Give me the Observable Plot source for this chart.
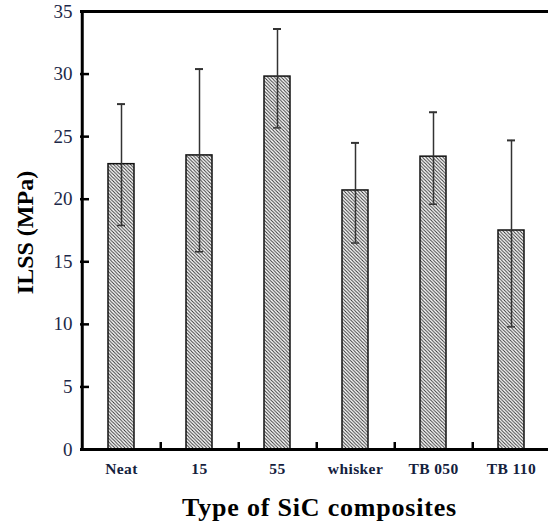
<!DOCTYPE html>
<html>
<head>
<meta charset="utf-8">
<script src="https://cdn.jsdelivr.net/npm/d3@7"></script>
<script src="https://cdn.jsdelivr.net/npm/@observablehq/plot@0.6"></script>
<style>
  html, body { margin: 0; padding: 0; background: #fff; }
  #chart svg { display: block; }
  #chart svg text { font-family: 'Liberation Serif', 'Times New Roman', serif !important; }
  g[aria-label="y-axis tick label"] { fill: #1c2848; }
  g[aria-label="x-axis tick label"] { fill: #14213d; letter-spacing: 0.4px; }
  .xtitle text { letter-spacing: 0.8px; }
</style>
</head>
<body>
<div id="chart"></div>
<script>
const categories = ["Neat", "15", "55", "whisker", "TB 050", "TB 110"];
const ilss = [22.8, 23.5, 29.8, 20.7, 23.4, 17.5];
const errHigh = [27.6, 30.4, 33.6, 24.5, 26.95, 24.7];
const errLow = [17.9, 15.8, 25.7, 16.5, 19.6, 9.8];
const yTicks = [0, 5, 10, 15, 20, 25, 30, 35];

const data = categories.map((c, i) => ({cat: c, v: ilss[i], lo: errLow[i], hi: errHigh[i]}));

const W = 548, H = 527;
const mL = 80, mT = 11, mB = 78;
const xRange = [80, 551];
const step = (xRange[1] - xRange[0]) / categories.length;
const frameH = H - mT - mB;
const frameW = W - mL;
const serif = "'Liberation Serif', 'Times New Roman', serif";

const plot = Plot.plot({
  width: W,
  height: H,
  marginLeft: mL,
  marginRight: 0,
  marginTop: mT,
  marginBottom: mB,
  style: {fontFamily: serif, background: "#fff"},
  x: {type: "band", domain: categories, range: xRange, paddingInner: 0.67, paddingOuter: 0.335, label: null},
  y: {domain: [0, 35], label: null},
  marks: [
    Plot.barY(data, {x: "cat", y: "v", fill: "url(#hatch)", stroke: "#111", strokeWidth: 1.5}),
    Plot.ruleX(data, {x: "cat", y1: "lo", y2: "hi", stroke: "#333", strokeWidth: 1.5}),
    Plot.tickY(data, {x: "cat", y: "hi", stroke: "#333", strokeWidth: 2, insetLeft: 9, insetRight: 9}),
    Plot.tickY(data, {x: "cat", y: "lo", stroke: "#333", strokeWidth: 1.5, insetLeft: 9, insetRight: 9}),
    Plot.ruleY(yTicks.slice(1, -1), {stroke: "#000", strokeWidth: 2.5, insetRight: frameW - 9}),
    Plot.ruleX(categories.slice(0, -1), {stroke: "#000", strokeWidth: 2.5, dx: step / 2, insetTop: frameH - 7}),
    Plot.ruleX([categories[0]], {stroke: "#000", strokeWidth: 3, dx: -step / 2}),
    Plot.ruleY([35], {stroke: "#000", strokeWidth: 3}),
    Plot.ruleY([0], {stroke: "#000", strokeWidth: 3}),
    Plot.axisY({ticks: yTicks, tickSize: 0, tickPadding: 8, fontSize: 19}),
    Plot.axisX({tickSize: 0, tickPadding: 13, fontSize: 15.5, fontWeight: "bold"}),
    Plot.text(["ILSS (MPa)"], {frameAnchor: "left", textAnchor: "middle", rotate: -90, dx: -55, dy: 2, fontSize: 24, fontWeight: "bold", fill: "#000"}),
    Plot.text(["Type of SiC composites"], {frameAnchor: "bottom", dx: 5, dy: 66, fontSize: 26, fontWeight: "bold", fill: "#000", lineAnchor: "bottom", className: "xtitle"})
  ]
});

const ns = "http://www.w3.org/2000/svg";
const defs = document.createElementNS(ns, "defs");
const pat = document.createElementNS(ns, "pattern");
const s = 3.4;
pat.setAttribute("id", "hatch");
pat.setAttribute("patternUnits", "userSpaceOnUse");
pat.setAttribute("width", s);
pat.setAttribute("height", s);
const bg = document.createElementNS(ns, "rect");
bg.setAttribute("width", s); bg.setAttribute("height", s); bg.setAttribute("fill", "#fff");
pat.appendChild(bg);
const path = document.createElementNS(ns, "path");
path.setAttribute("d", `M0,0L${s},${s}M${-s/2},${s/2}L${s/2},${s*1.5}M${s/2},${-s/2}L${s*1.5},${s/2}`);
path.setAttribute("stroke", "#333");
path.setAttribute("stroke-width", "1");
pat.appendChild(path);
defs.appendChild(pat);
plot.insertBefore(defs, plot.firstChild);

document.getElementById("chart").appendChild(plot);
</script>
</body>
</html>
